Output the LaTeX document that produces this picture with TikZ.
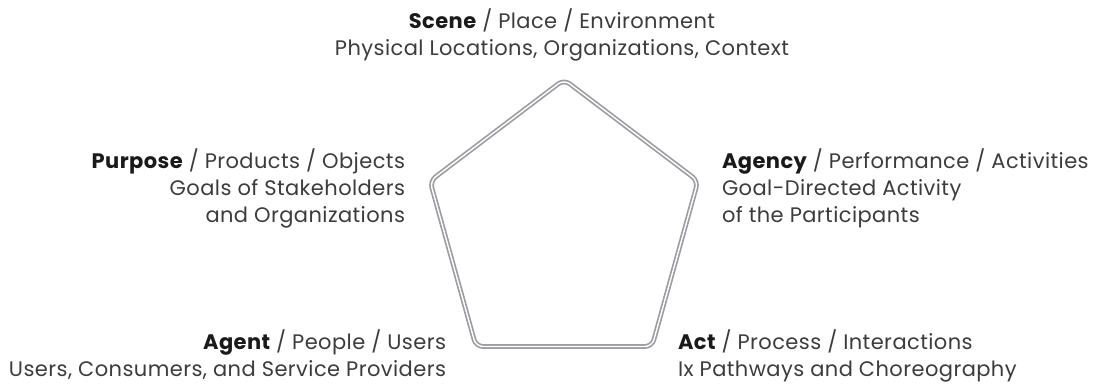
\documentclass[tikz,border=0pt]{standalone}
\usepackage{fontspec}
\setmainfont{Poppins}[LetterSpace=2]
\definecolor{txt}{HTML}{3C3C3C}
\definecolor{txtb}{HTML}{1A1A1A}
\definecolor{pent}{HTML}{9C9CA2}
\begin{document}
\begin{tikzpicture}[x=1pt,y=-1pt,
  lbl/.style={inner sep=0pt,outer sep=0pt,text=txt,font=\fontsize{21}{27}\selectfont},
  pentline/.style={draw=pent,line width=1.7pt,double=white,double distance=1.4pt,rounded corners=7pt,line join=round}]
\useasboundingbox (0,0) rectangle (1103,383);
\coordinate (T) at (564,79.5);
\coordinate (L) at (430,181);
\coordinate (R) at (698,181);
\coordinate (BL) at (476,346.5);
\coordinate (BR) at (652,346.5);
\draw[pentline] (T) -- (R) -- (BR) -- (BL) -- (L) -- cycle;
\node[lbl,align=center,anchor=base] (scene) at (562,55) {\textbf{\color{txtb}Scene} / Place / Environment\\Physical Locations, Organizations, Context};
\node[lbl,align=right,anchor=base east] (purpose) at (405,222) {\textbf{\color{txtb}Purpose} / Products / Objects\\Goals of Stakeholders\\and Organizations};
\node[lbl,align=left,anchor=base west] (agency) at (722,222) {\textbf{\color{txtb}Agency} / Performance / Activities\\Goal-Directed Activity\\of the Participants};
\node[lbl,align=right,anchor=base east] (agent) at (446,376) {\textbf{\color{txtb}Agent} / People / Users\\Users, Consumers, and Service Providers};
\node[lbl,align=left,anchor=base west] (act) at (678,376) {\textbf{\color{txtb}Act} / Process / Interactions\\Ix Pathways and Choreography};
\end{tikzpicture}
\end{document}
